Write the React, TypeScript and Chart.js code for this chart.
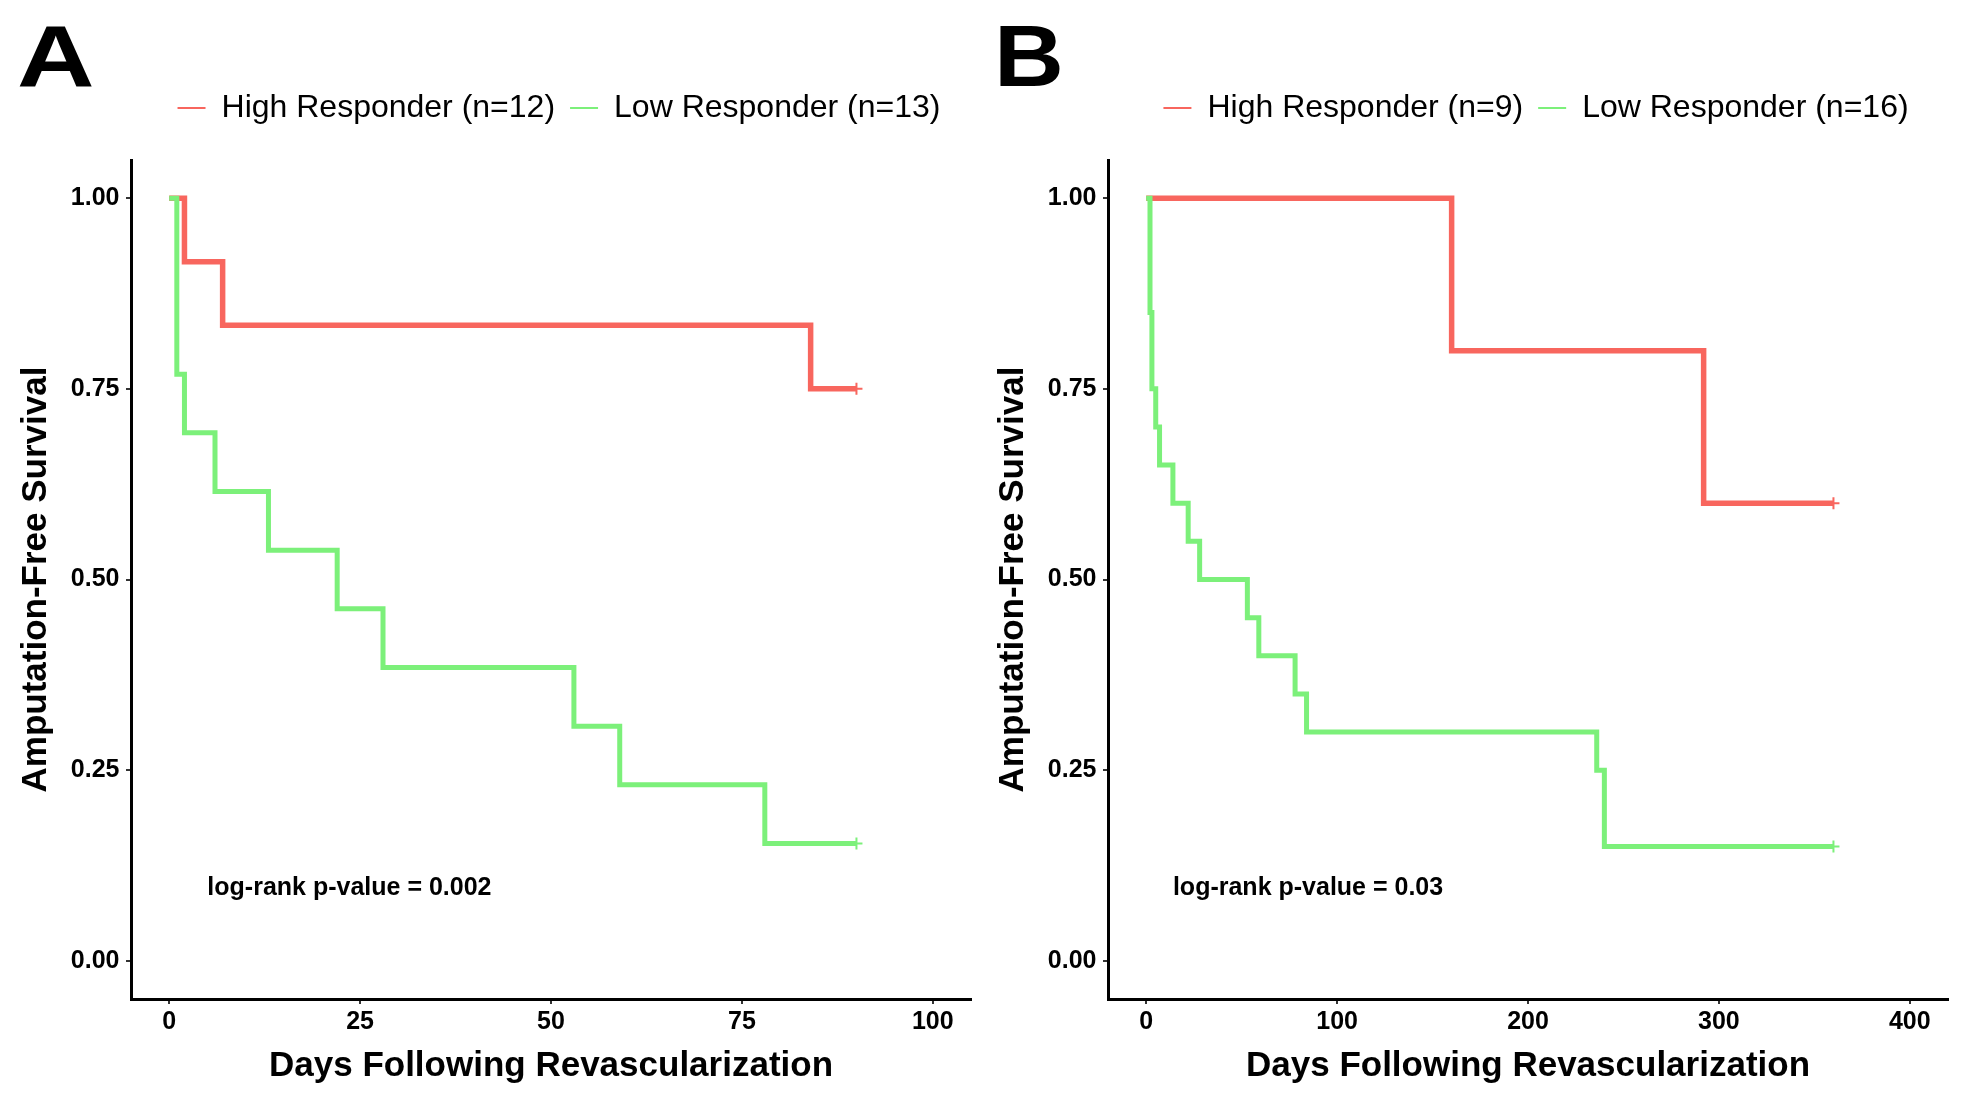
import React, { useEffect, useRef } from "react";
import { Chart, registerables } from "chart.js";

Chart.register(...registerables);

// ---------- Data ----------
// Panel A
const aHighTimes = [0, 2, 7, 84, 90];
const aHighSurv = [1, 0.9167, 0.8333, 0.75, 0.75];
const aHighCensor = [90];
const aLowTimes = [0, 1, 2, 6, 13, 22, 28, 53, 59, 78, 90];
const aLowSurv = [1, 0.7692, 0.6923, 0.6154, 0.5385, 0.4615, 0.3846, 0.3077, 0.2308, 0.1538, 0.1538];
const aLowCensor = [90];
const aXTicks = [0, 25, 50, 75, 100];
const aLabels = ["High Responder (n=12)", "Low Responder (n=13)"];
const aPText = "log-rank p-value = 0.002";

// Panel B
const bHighTimes = [0, 160, 292, 360];
const bHighSurv = [1, 0.8, 0.6, 0.6];
const bHighCensor = [360];
const bLowTimes = [0, 2, 3, 5, 7, 14, 22, 28, 53, 59, 78, 84, 236, 240, 360];
const bLowSurv = [1, 0.85, 0.75, 0.7, 0.65, 0.6, 0.55, 0.5, 0.45, 0.4, 0.35, 0.3, 0.25, 0.15, 0.15];
const bLowCensor = [360];
const bXTicks = [0, 100, 200, 300, 400];
const bLabels = ["High Responder (n=9)", "Low Responder (n=16)"];
const bPText = "log-rank p-value = 0.03";

const yTicks = [0, 0.25, 0.5, 0.75, 1];

const RED = "#F8665E";
const GREEN = "#7CF07A";
const FONT = "'Liberation Sans', Arial, sans-serif";

const panelTextPlugin = {
  id: "panelText",
  afterLayout(chart: any, _args: any, opts: any) {
    if (chart.legend) {
      chart.legend.left += opts.legendShift;
      chart.legend.right += opts.legendShift;
    }
  },
  afterDraw(chart: any, _args: any, opts: any) {
    const ctx = chart.ctx;
    ctx.save();
    ctx.fillStyle = "#000";
    ctx.font = `bold 88px ${FONT}`;
    ctx.textAlign = "left";
    ctx.textBaseline = "alphabetic";
    ctx.save();
    ctx.translate(opts.letterX, 77.5);
    ctx.scale(opts.letterScale, 1);
    ctx.fillText(opts.letter, 0, 0);
    ctx.restore();
    const px = chart.scales.x.getPixelForValue(opts.pX);
    const py = chart.scales.y.getPixelForValue(opts.pY);
    ctx.font = `bold 25px ${FONT}`;
    ctx.textBaseline = "middle";
    ctx.fillText(opts.pText, px, py);
    ctx.restore();
  },
};

function toPoints(times: number[], surv: number[]) {
  return times.map((t, i) => ({ x: t, y: surv[i] }));
}

type PanelProps = {
  letter: string;
  letterX: number;
  letterScale: number;
  labels: string[];
  highT: number[];
  highS: number[];
  highC: number[];
  lowT: number[];
  lowS: number[];
  lowC: number[];
  xTicks: number[];
  xMin: number;
  xMax: number;
  pText: string;
  pX: number;
};

function Panel(p: PanelProps) {
  const ref = useRef<HTMLCanvasElement | null>(null);
  useEffect(() => {
    if (!ref.current) return;
    const mkDs = (label: string, t: number[], s: number[], c: number[], color: string, order: number, bw: number) => ({
      label,
      data: toPoints(t, s),
      xAxisID: "x",
      yAxisID: "y",
      borderColor: color,
      backgroundColor: color,
      borderWidth: bw,
      stepped: true,
      fill: false,
      tension: 0,
      order,
      borderJoinStyle: "miter",
      borderCapStyle: "butt",
      pointStyle: "cross",
      pointBorderColor: color,
      pointBorderWidth: 2,
      pointRadius: (ctx: any) => (ctx.raw && c.includes(ctx.raw.x) && ctx.dataIndex === t.length - 1 ? 6 : 0),
      pointHoverRadius: 0,
      pointHitRadius: 0,
    });
    const chart = new Chart(ref.current, {
      type: "line",
      data: {
        datasets: [
          mkDs(p.labels[0], p.highT, p.highS, p.highC, RED, 1, 5.5),
          mkDs(p.labels[1], p.lowT, p.lowS, p.lowC, GREEN, 0, 5),
        ] as any,
      },
      options: {
        animation: false,
        responsive: false,
        layout: { padding: { top: 69, left: 0, right: 14, bottom: 0 } },
        plugins: {
          tooltip: { enabled: false },
          legend: {
            display: true,
            position: "top",
            fullSize: false,
            labels: {
              usePointStyle: true,
              pointStyle: "line",
              pointStyleWidth: 28,
              padding: 15,
              color: "#000",
              font: { family: FONT, size: 32 },
              sort: (a: any, b: any) => a.datasetIndex - b.datasetIndex,
            },
          },
          panelText: {
            letter: p.letter,
            letterX: p.letterX,
            letterScale: p.letterScale,
            pText: p.pText,
            pX: p.pX,
            pY: 0.095,
            legendShift: 8,
          },
        } as any,
        scales: {
          xTop: {
            type: "linear",
            axis: "x",
            position: "top",
            display: true,
            grid: { display: false },
            ticks: { display: false },
            border: { display: false },
            afterFit: (s: any) => {
              s.height = 26;
            },
          },
          x: {
            type: "linear",
            position: "bottom",
            min: p.xMin,
            max: p.xMax,
            afterBuildTicks: (s: any) => {
              s.ticks = p.xTicks.map((v) => ({ value: v }));
            },
            afterFit: (s: any) => {
              s.height = 90;
            },
            grid: {
              display: true,
              drawOnChartArea: false,
              drawTicks: true,
              tickLength: 5,
              color: "#333",
              lineWidth: 2,
            },
            border: { display: true, color: "#000", width: 3 },
            ticks: {
              autoSkip: false,
              maxRotation: 0,
              padding: 3.5,
              color: "#000",
              font: { family: FONT, size: 25, weight: "bold" },
              callback: (v: any) => String(v),
            },
            title: {
              display: true,
              text: "Days Following Revascularization",
              color: "#000",
              font: { family: FONT, size: 35, weight: "bold" },
              padding: { top: 0, bottom: 1.5 },
            },
          },
          y: {
            type: "linear",
            position: "left",
            min: -0.05,
            max: 1.05,
            afterBuildTicks: (s: any) => {
              s.ticks = yTicks.map((v) => ({ value: v }));
            },
            afterFit: (s: any) => {
              s.width = 123;
            },
            grid: {
              display: true,
              drawOnChartArea: false,
              drawTicks: true,
              tickLength: 5,
              color: "#333",
              lineWidth: 2,
            },
            border: { display: true, color: "#000", width: 3 },
            ticks: {
              autoSkip: false,
              padding: 6.5,
              color: "#000",
              font: { family: FONT, size: 25, weight: "bold" },
              callback: (v: any) => Number(v).toFixed(2),
            },
            title: {
              display: true,
              text: "Amputation-Free Survival",
              color: "#000",
              font: { family: FONT, size: 35, weight: "bold" },
              padding: { top: 7.5, bottom: 0 },
            },
          },
        } as any,
      },
      plugins: [panelTextPlugin],
    } as any);
    return () => chart.destroy();
  }, []);
  return <canvas ref={ref} width={977} height={1081} style={{ display: "block" }} />;
}

export default function App() {
  return (
    <div style={{ display: "flex", width: 1954, height: 1081, background: "#fff" }}>
      <Panel
        letter="A"
        letterX={9}
        letterScale={1.22}
        labels={aLabels}
        highT={aHighTimes}
        highS={aHighSurv}
        highC={aHighCensor}
        lowT={aLowTimes}
        lowS={aLowSurv}
        lowC={aLowCensor}
        xTicks={aXTicks}
        xMin={-5}
        xMax={105}
        pText={aPText}
        pX={5}
      />
      <Panel
        letter="B"
        letterX={9}
        letterScale={1.1}
        labels={bLabels}
        highT={bHighTimes}
        highS={bHighSurv}
        highC={bHighCensor}
        lowT={bLowTimes}
        lowS={bLowSurv}
        lowC={bLowCensor}
        xTicks={bXTicks}
        xMin={-20}
        xMax={420}
        pText={bPText}
        pX={14}
      />
    </div>
  );
}
